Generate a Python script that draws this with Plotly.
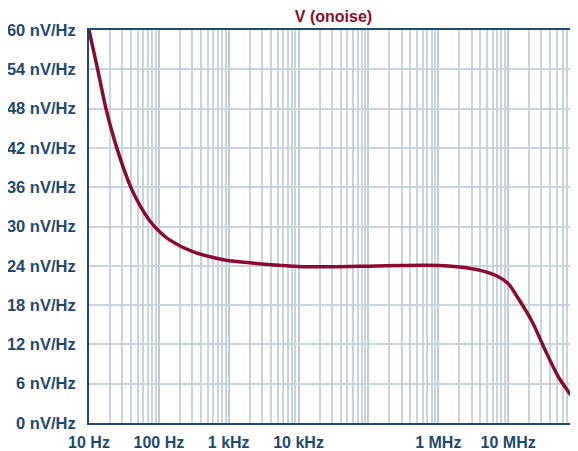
import plotly.graph_objects as go

# Data
freq_hz = [10, 13.3, 17.5, 25, 40, 55, 75, 100, 140, 300, 880, 2300, 10000, 30000,
           100000, 300000, 1e6, 2e6, 4e6, 7e6, 10e6, 14e6, 22e6, 34e6, 52e6, 75e6, 100e6]
noise_nv = [60, 54, 48, 42, 35.9, 33.0, 30.8, 29.3, 28.0, 26.2, 24.9, 24.4, 23.9, 23.85,
            23.95, 24.05, 24.05, 23.8, 23.3, 22.4, 21.3, 19.0, 15.5, 11.1, 7.1, 4.6, 2.8]

x_tick_vals = [10, 100, 1e3, 1e4, 1e5, 1e6, 1e7, 1e8]
x_tick_text = ["10 Hz", "100 Hz", "1 kHz", "10 kHz", "", "1 MHz", "10 MHz", ""]
y_tick_vals = [0, 6, 12, 18, 24, 30, 36, 42, 48, 54, 60]
y_tick_text = [f"{v} nV/Hz" for v in y_tick_vals]
minor_vals = [m * 10 ** e for e in range(1, 8) for m in range(2, 10)]

NAVY = "#1f4b78"
LABEL = "#1d4a74"
GRID = "#c8d5e0"
LINE = "#8c0a30"
FONT = "Liberation Sans"

fig = go.Figure()
fig.add_trace(go.Scatter(
    x=freq_hz, y=noise_nv, mode="lines",
    line=dict(color=LINE, width=3.5, shape="spline", smoothing=0.8),
    showlegend=False, hoverinfo="skip",
))

# page body has an 8px default margin, so the figure is 570x443 placed at (8, 8)
fig.update_layout(
    width=570, height=443,
    margin=dict(l=81, r=0, t=22, b=28, autoexpand=False),
    paper_bgcolor="white", plot_bgcolor="white",
    title=dict(text="V (onoise)", x=0.5, xref="paper", xanchor="center",
               y=1 - 8.5 / 443, yref="container", yanchor="middle",
               font=dict(family=FONT, size=16, color=LINE, weight="bold"),
               automargin=False),
    font=dict(family=FONT),
)

fig.update_xaxes(
    type="log", range=[1, 8], automargin=False,
    tickvals=x_tick_vals, ticktext=x_tick_text,
    tickfont=dict(family=FONT, size=16, color=LABEL, weight="bold"),
    ticks="", ticklabelstandoff=4,
    showgrid=True, gridcolor="#bccbd8", gridwidth=2,
    minor=dict(tickvals=minor_vals, showgrid=True, gridcolor=GRID, gridwidth=1.5, ticks=""),
    showline=True, linecolor=NAVY, linewidth=2, mirror=True,
    zeroline=False,
)
fig.update_yaxes(
    range=[0, 60], automargin=False,
    tickvals=y_tick_vals, ticktext=y_tick_text,
    tickfont=dict(family=FONT, size=16.5, color=LABEL, weight="bold"),
    ticks="", ticklabelstandoff=8,
    showgrid=True, gridcolor=GRID, gridwidth=2,
    showline=True, linecolor=NAVY, linewidth=2, mirror=False,
    zeroline=False,
)

fig.write_html("out.html")
